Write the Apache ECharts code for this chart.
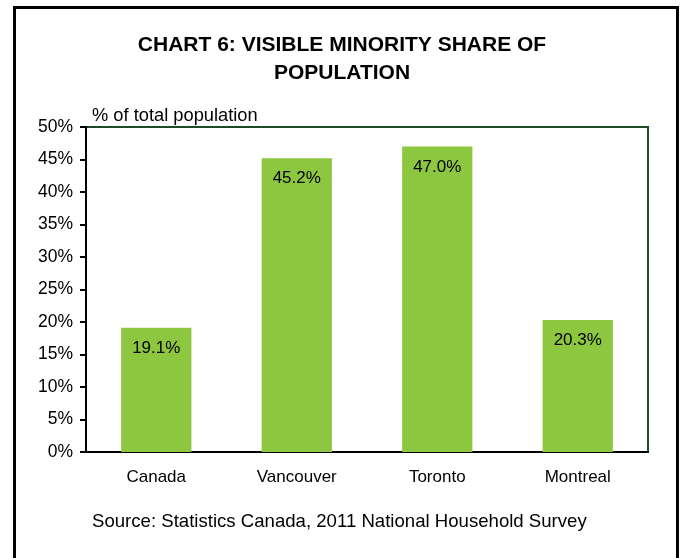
<!DOCTYPE html>
<html>
<head>
<meta charset="utf-8">
<script src="https://cdn.jsdelivr.net/npm/echarts@6/dist/echarts.min.js"></script>
<style>html,body{margin:0;padding:0;background:#fff;}#c{width:684px;height:558px;}</style>
</head>
<body>
<div id="c"></div>
<script>
const categories = ['Canada', 'Vancouver', 'Toronto', 'Montreal'];
const values = [19.1, 45.2, 47.0, 20.3];
const yTicks = [0, 5, 10, 15, 20, 25, 30, 35, 40, 45, 50];
const titleLines = ['CHART 6: VISIBLE MINORITY SHARE OF', 'POPULATION'];
const axisTitle = '% of total population';
const sourceText = 'Source: Statistics Canada, 2011 National Household Survey';

const chart = echarts.init(document.getElementById('c'), null, {renderer: 'canvas'});
const font = 'Liberation Sans, Arial, sans-serif';
chart.setOption({
  animation: false,
  backgroundColor: '#fff',
  textStyle: {fontFamily: font},
  title: {
    text: titleLines.join('\n'),
    left: 'center',
    top: 26,
    textStyle: {fontFamily: font, fontWeight: 'bold', fontSize: 21, lineHeight: 28, color: '#000'}
  },
  graphic: [
    {type: 'rect', shape: {x: 14.5, y: 7.5, width: 663, height: 620}, style: {fill: 'none', stroke: '#000', lineWidth: 3}, z: 100},
    {type: 'text', left: 92, top: 107, style: {text: axisTitle, font: '18.3px ' + font, fill: '#000'}},
    {type: 'text', left: 92, top: 512, style: {text: sourceText, font: '18.6px ' + font, fill: '#000'}}
  ],
  grid: {left: 86, right: 36, top: 127, bottom: 106, show: true, borderColor: '#1d4b2a', borderWidth: 2, backgroundColor: 'transparent'},
  xAxis: {
    type: 'category',
    data: categories,
    axisLine: {lineStyle: {color: '#000', width: 2}},
    axisTick: {show: false},
    axisLabel: {color: '#000', fontSize: 17, margin: 17, fontFamily: font}
  },
  yAxis: {
    type: 'value',
    min: yTicks[0],
    max: yTicks[yTicks.length - 1],
    interval: 5,
    axisLine: {show: true, lineStyle: {color: '#000', width: 2}},
    axisTick: {show: true, length: 6, lineStyle: {color: '#000', width: 2}},
    splitLine: {show: false},
    axisLabel: {color: '#000', fontSize: 17.5, margin: 13, fontFamily: font, formatter: v => v + '%'}
  },
  series: [{
    type: 'bar',
    data: values,
    barWidth: '50%',
    itemStyle: {color: '#8DC63F'},
    label: {
      show: true,
      position: 'insideTop',
      distance: 12,
      color: '#000',
      fontSize: 17,
      fontFamily: font,
      formatter: p => p.value.toFixed(1) + '%'
    }
  }]
});
</script>
</body>
</html>
